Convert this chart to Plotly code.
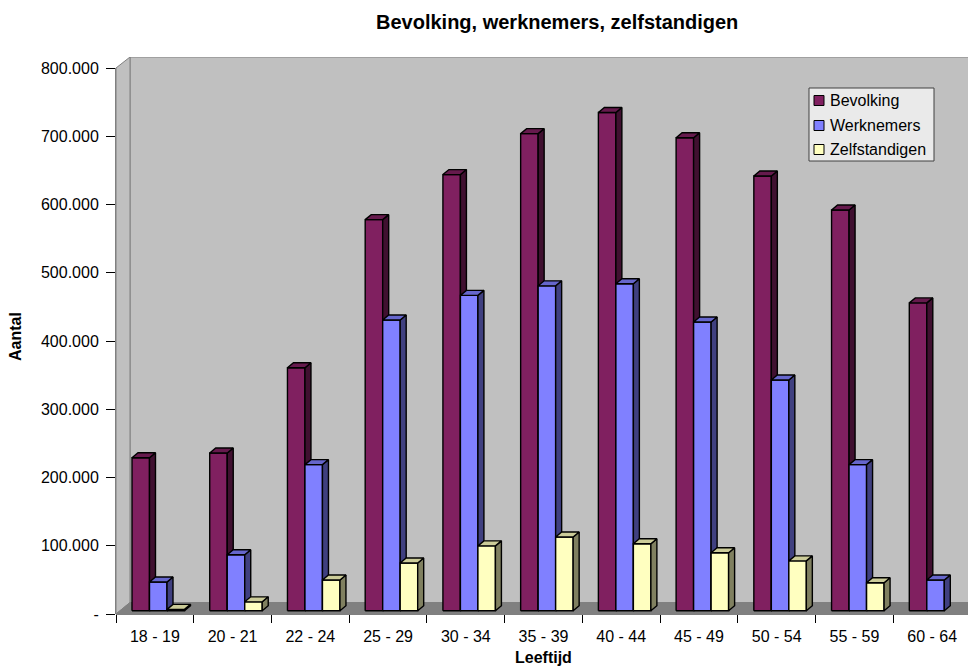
import plotly.graph_objects as go

# ---------------- data ----------------
categories = ["18 - 19", "20 - 21", "22 - 24", "25 - 29", "30 - 34", "35 - 39",
              "40 - 44", "45 - 49", "50 - 54", "55 - 59", "60 - 64"]
bevolking = [224000, 231000, 356000, 573000, 639000, 699000, 730000, 693000, 637000, 587000, 451000]
werknemers = [42000, 82000, 214000, 426000, 462000, 476000, 479000, 423000, 338000, 214000, 45000]
zelfstandigen = [2000, 13000, 45000, 70000, 95000, 108000, 98000, 85000, 73000, 41000, None]
series_names = ["Bevolking", "Werknemers", "Zelfstandigen"]
y_tick_values = [0, 100000, 200000, 300000, 400000, 500000, 600000, 700000, 800000]
y_tick_labels = ["-", "100.000", "200.000", "300.000", "400.000", "500.000",
                 "600.000", "700.000", "800.000"]

# ---------------- styling ----------------
front_colors = ["#802060", "#8080FF", "#FFFFC0"]
side_colors = ["#401030", "#404080", "#808060"]
top_colors = ["#661A4D", "#6666CC", "#CCCC99"]
FONT = "Liberation Sans, Arial, sans-serif"

OFF = 8                                      # page body margin
W, H = 976 - OFF, 668 - OFF
PL, PR, PT, PB = 116, 976, 57, 614          # plot area in page pixels
CAT_PX = 77.73                               # pixels per category
PX_PER_Y = 546 / 800000                      # pixels per unit value
X0 = -0.5
X1 = X0 + (PR - PL) / CAT_PX
YMAX = (PB - PT) / PX_PER_Y
NCAT = len(categories)


def dx(px):
    return px / CAT_PX


def dy(px):
    return px / PX_PER_Y


WDX, WDY = dx(14), dy(11.5)        # wall depth
BAR_W = 17.5                        # bar width px
GROUP_OFF = -22.87                  # first bar left edge relative to category centre (px)
BASE = dy(3.3)                      # bars sit a little back on the floor
SDX, SDY = dx(6), dy(5)             # bar depth

fig = go.Figure()

all_series = [bevolking, werknemers, zelfstandigen]
for k, (name, vals) in enumerate(zip(series_names, all_series)):
    fx, fy, sx, sy, tx, ty = [], [], [], [], [], []
    for i, v in enumerate(vals):
        if v is None:
            continue
        xl = i + dx(GROUP_OFF + k * BAR_W)
        xr = xl + dx(BAR_W)
        yb = BASE
        yt = BASE + v
        fx += [xl, xr, xr, xl, xl, None]
        fy += [yb, yb, yt, yt, yb, None]
        sx += [xr, xr + SDX, xr + SDX, xr, xr, None]
        sy += [yb, yb + SDY, yt + SDY, yt, yb, None]
        tx += [xl, xr, xr + SDX, xl + SDX, xl, None]
        ty += [yt, yt, yt + SDY, yt + SDY, yt, None]
    for xs, ys, col in ((fx, fy, front_colors[k]), (sx, sy, side_colors[k]), (tx, ty, top_colors[k])):
        fig.add_trace(go.Scatter(x=xs, y=ys, mode="lines", fill="toself", fillcolor=col,
                                 line=dict(color="black", width=1.4), showlegend=False,
                                 name=name, hoverinfo="skip"))


def px2paper_x(px):
    return (px - PL) / (PR - PL)


def px2paper_y(py):
    return (PB - py) / (PB - PT)


xend = X0 + NCAT  # right end of category axis
shapes = [
    # back wall
    dict(type="rect", xref="x", yref="y", x0=X0 + WDX, x1=xend + WDX, y0=WDY, y1=YMAX,
         fillcolor="#C0C0C0", line=dict(color="#808080", width=1), layer="below"),
    # side wall
    dict(type="path", xref="x", yref="y",
         path=f"M {X0},0 L {X0 + WDX},{WDY} L {X0 + WDX},{YMAX} L {X0},{800000} Z",
         fillcolor="#C0C0C0", line=dict(color="#808080", width=1), layer="below"),
    # floor
    dict(type="path", xref="x", yref="y",
         path=f"M {X0},0 L {xend},0 L {xend + WDX},{WDY} L {X0 + WDX},{WDY} Z",
         fillcolor="#808080", line=dict(color="#808080", width=1), layer="below"),
    # axis lines
    dict(type="line", xref="paper", yref="paper", x0=0, x1=0, y0=0, y1=800000 / YMAX,
         line=dict(color="black", width=1), layer="below"),
    dict(type="line", xref="paper", yref="paper", x0=0, x1=(xend - X0) / (X1 - X0), y0=0, y1=0,
         line=dict(color="black", width=1), layer="below"),
]

annotations = [
    dict(text="<b>Bevolking, werknemers, zelfstandigen</b>", x=px2paper_x(557), y=px2paper_y(22),
         xref="paper", yref="paper", showarrow=False, xanchor="center", yanchor="middle",
         font=dict(size=20, color="black", family=FONT)),
    dict(text="<b>Leeftijd</b>", x=px2paper_x(543.5), y=px2paper_y(657),
         xref="paper", yref="paper", showarrow=False, xanchor="center", yanchor="middle",
         font=dict(size=16, color="black", family=FONT)),
    dict(text="<b>Aantal</b>", x=px2paper_x(15), y=px2paper_y(337), textangle=-90,
         xref="paper", yref="paper", showarrow=False, xanchor="center", yanchor="middle",
         font=dict(size=16, color="black", family=FONT)),
]

# legend box (drawn as shapes + text)
LEG_L, LEG_R, LEG_T, LEG_B = 809, 934, 88, 161
shapes.append(dict(type="rect", xref="paper", yref="paper",
                   x0=px2paper_x(LEG_L), x1=px2paper_x(LEG_R),
                   y0=px2paper_y(LEG_B), y1=px2paper_y(LEG_T),
                   fillcolor="#EAEAEA", line=dict(color="#404040", width=1), layer="above"))
row_y = [100.5, 125.5, 149.5]
for k, name in enumerate(series_names):
    shapes.append(dict(type="rect", xref="paper", yref="paper",
                       x0=px2paper_x(814), x1=px2paper_x(824),
                       y0=px2paper_y(row_y[k] + 5), y1=px2paper_y(row_y[k] - 5),
                       fillcolor=front_colors[k], line=dict(color="black", width=1), layer="above"))
    annotations.append(dict(text=name, x=px2paper_x(828), y=px2paper_y(row_y[k]),
                            xref="paper", yref="paper", showarrow=False,
                            xanchor="left", yanchor="middle",
                            font=dict(size=16, color="black", family=FONT)))

fig.update_layout(
    width=W, height=H,
    margin=dict(l=PL - OFF, r=976 - PR, t=PT - OFF, b=668 - PB, pad=0),
    paper_bgcolor="white", plot_bgcolor="white",
    font=dict(family=FONT, size=16, color="black"),
    shapes=shapes, annotations=annotations,
    showlegend=False,
    xaxis=dict(range=[X0, X1], tickmode="array", tickvals=list(range(NCAT)), ticktext=categories,
               ticks="", showgrid=False, zeroline=False, showline=False, fixedrange=True,
               ticklabelstandoff=11,
               tickfont=dict(size=16, family=FONT, color="black"),
               minor=dict(tickmode="array", tickvals=[X0 + i for i in range(NCAT + 1)],
                          ticks="outside", ticklen=8, tickcolor="black", tickwidth=1,
                          showgrid=False)),
    yaxis=dict(range=[0, YMAX], tickmode="array", tickvals=y_tick_values, ticktext=y_tick_labels,
               ticks="outside", ticklen=9, tickcolor="black", tickwidth=1,
               showgrid=False, zeroline=False, showline=False, fixedrange=True,
               ticklabelstandoff=4,
               tickfont=dict(size=16, family=FONT, color="black")),
)

fig.write_html("out.html")
